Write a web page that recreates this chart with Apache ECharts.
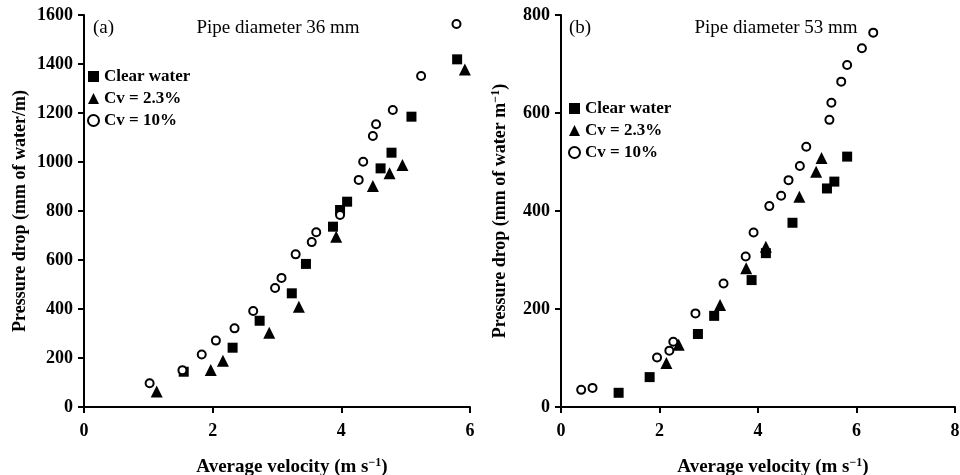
<!DOCTYPE html>
<html>
<head>
<meta charset="utf-8">
<script src="https://cdn.jsdelivr.net/npm/echarts@6/dist/echarts.min.js"></script>
<style>html,body{margin:0;padding:0;background:#fff;}#c{width:960px;height:475px;}</style>
</head>
<body>
<div id="c"></div>
<script>
// Panel (a): pipe diameter 36 mm
const aClearX = [1.55, 2.31, 2.73, 3.23, 3.45, 3.87, 3.98, 4.09, 4.61, 4.78, 5.09, 5.80];
const aClearY = [144, 242, 352, 464, 584, 736, 804, 838, 974, 1038, 1185, 1419];
const aCv23X = [1.13, 1.97, 2.16, 2.88, 3.34, 3.92, 4.49, 4.75, 4.95, 5.92];
const aCv23Y = [63, 151, 189, 303, 409, 695, 902, 954, 988, 1378];
const aCv10X = [1.02, 1.53, 1.83, 2.05, 2.34, 2.63, 2.97, 3.07, 3.29, 3.54, 3.61, 3.98, 4.27, 4.34, 4.49, 4.54, 4.80, 5.24, 5.79];
const aCv10Y = [97, 150, 214, 271, 321, 392, 486, 527, 623, 673, 713, 784, 927, 1001, 1106, 1154, 1212, 1351, 1563];
// Panel (b): pipe diameter 53 mm
const bClearX = [1.17, 1.80, 2.78, 3.11, 3.87, 4.16, 4.70, 5.40, 5.55, 5.81];
const bClearY = [29, 61, 149, 186, 259, 314, 376, 446, 460, 511];
const bCv23X = [2.14, 2.39, 3.23, 3.76, 4.16, 4.84, 5.18, 5.29];
const bCv23Y = [90, 127, 208, 283, 327, 429, 480, 508];
const bCv10X = [0.41, 0.64, 1.95, 2.20, 2.28, 2.73, 3.30, 3.75, 3.91, 4.23, 4.47, 4.62, 4.85, 4.98, 5.45, 5.49, 5.69, 5.81, 6.11, 6.34];
const bCv10Y = [35, 39, 101, 115, 133, 191, 252, 307, 356, 410, 431, 463, 492, 531, 586, 621, 664, 698, 732, 764];

const seriesNames = ['Clear water', 'Cv = 2.3%', 'Cv = 10%'];
const xTicksA = [0, 2, 4, 6];
const yTicksA = [0, 200, 400, 600, 800, 1000, 1200, 1400, 1600];
const xTicksB = [0, 2, 4, 6, 8];
const yTicksB = [0, 200, 400, 600, 800];
const panelTitles = ['Pipe diameter 36 mm', 'Pipe diameter 53 mm'];
const panelLabels = ['(a)', '(b)'];

const FONT = 'Liberation Serif';
const zip = (xs, ys) => xs.map((x, i) => [x, ys[i]]);

function xAxis(idx, ticks) {
  return {
    gridIndex: idx, type: 'value', min: ticks[0], max: ticks[ticks.length - 1], interval: ticks[1] - ticks[0],
    name: '{t|Average velocity (m s}{s|\u22121}{t|)}', nameLocation: 'middle', nameGap: 50,
    nameTextStyle: { padding: [0, 0, 0, 30],
                     rich: { t: { fontFamily: FONT, fontSize: 19, fontWeight: 'bold', color: '#000' },
                             s: { fontFamily: FONT, fontSize: 12, fontWeight: 'bold', color: '#000', verticalAlign: 'top', padding: [0, 0, 8, 0] } } },
    axisLine: { lineStyle: { color: '#000', width: 2 } },
    axisTick: { inside: false, length: 6, lineStyle: { color: '#000', width: 2 } },
    axisLabel: { fontFamily: FONT, fontSize: 18, fontWeight: 'bold', color: '#000', margin: 15, formatter: v => String(v) },
    splitLine: { show: false }
  };
}
function yAxis(idx, ticks, name, gap) {
  return {
    gridIndex: idx, type: 'value', min: ticks[0], max: ticks[ticks.length - 1], interval: ticks[1] - ticks[0],
    name: name, nameLocation: 'middle', nameGap: gap,
    nameTextStyle: { rich: { t: { fontFamily: FONT, fontSize: 18, fontWeight: 'bold', color: '#000' },
                             s: { fontFamily: FONT, fontSize: 12, fontWeight: 'bold', color: '#000', padding: [0, 0, 8, 0] } } },
    axisLine: { lineStyle: { color: '#000', width: 2 } },
    axisTick: { inside: false, length: 6, lineStyle: { color: '#000', width: 2 } },
    axisLabel: { fontFamily: FONT, fontSize: 18, fontWeight: 'bold', color: '#000', margin: 11, formatter: v => String(v) },
    splitLine: { show: false }
  };
}
function sq(idx, data) {
  return { name: seriesNames[0], type: 'scatter', xAxisIndex: idx, yAxisIndex: idx, data: data,
    symbol: 'rect', symbolSize: 10, itemStyle: { color: '#000', opacity: 1 } };
}
function tri(idx, data) {
  return { name: seriesNames[1], type: 'scatter', xAxisIndex: idx, yAxisIndex: idx, data: data,
    symbol: 'triangle', symbolSize: 12, itemStyle: { color: '#000', opacity: 1 } };
}
function circ(idx, data) {
  return { name: seriesNames[2], type: 'scatter', xAxisIndex: idx, yAxisIndex: idx, data: data,
    symbol: 'circle', symbolSize: 8, itemStyle: { color: '#fff', borderColor: '#000', borderWidth: 2, opacity: 1 } };
}
function legend(left, top) {
  return { data: seriesNames, orient: 'vertical', left: left, top: top, itemWidth: 11, itemHeight: 11,
    itemGap: 5, itemTextGap: 16, selectedMode: false,
    textStyle: { fontFamily: FONT, fontSize: 17, fontWeight: 'bold', color: '#000' } };
}
function txt(x, y, s, align, weight) {
  return { type: 'text', x: x, y: y, style: { text: s, fontFamily: FONT, fontSize: 19, fontWeight: weight || 'normal',
    fill: '#000', textAlign: align, textVerticalAlign: 'middle' } };
}

const chart = echarts.init(document.getElementById('c'), null, { renderer: 'canvas' });
chart.setOption({
  backgroundColor: '#fff',
  animation: false,
  grid: [
    { left: 84, right: 490, top: 15, bottom: 68, containLabel: false, outerBoundsMode: 'none' },
    { left: 561, right: 5, top: 15, bottom: 68, containLabel: false, outerBoundsMode: 'none' }
  ],
  xAxis: [xAxis(0, xTicksA), xAxis(1, xTicksB)],
  yAxis: [
    yAxis(0, yTicksA, '{t|Pressure drop (mm of water/m)}', 55),
    yAxis(1, yTicksB, '{t|Pressure drop (mm of water m}{s|\u22121}{t|)}', 51)
  ],
  legend: [legend(82, 63), legend(563, 95)],
  graphic: [
    txt(93, 28, panelLabels[0], 'left'),
    txt(278, 28, panelTitles[0], 'center'),
    txt(569, 28, panelLabels[1], 'left'),
    txt(776, 28, panelTitles[1], 'center')
  ],
  series: [
    sq(0, zip(aClearX, aClearY)), tri(0, zip(aCv23X, aCv23Y)), circ(0, zip(aCv10X, aCv10Y)),
    sq(1, zip(bClearX, bClearY)), tri(1, zip(bCv23X, bCv23Y)), circ(1, zip(bCv10X, bCv10Y))
  ]
});
</script>
</body>
</html>
